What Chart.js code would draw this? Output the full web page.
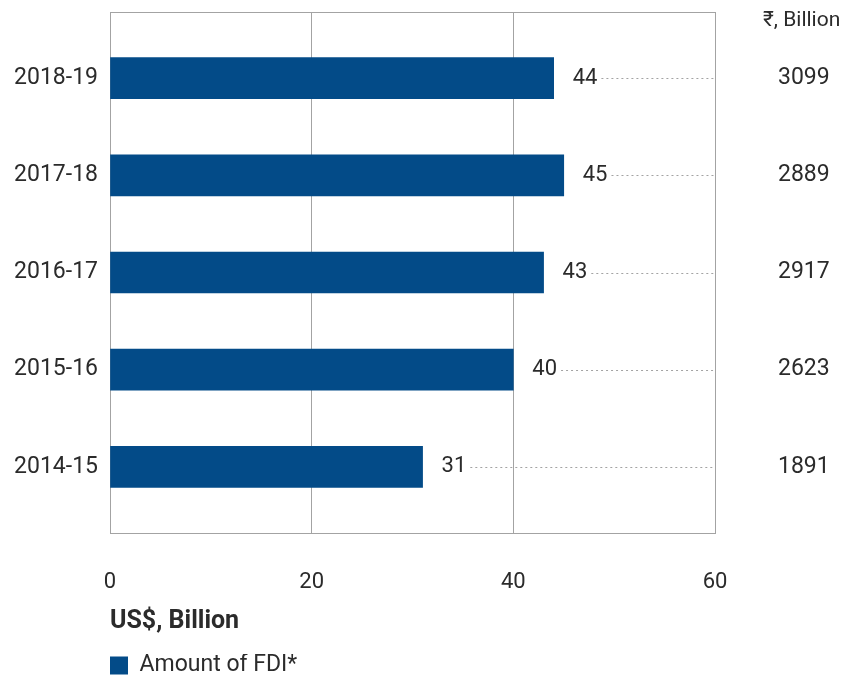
<!DOCTYPE html>
<html>
<head>
<meta charset="utf-8">
<script src="https://cdn.jsdelivr.net/npm/chart.js@4/dist/chart.umd.min.js"></script>
<style>
  html, body { margin: 0; padding: 0; background: #ffffff; }
  #wrap { width: 845px; height: 677px; }
</style>
</head>
<body>
<div id="wrap"><canvas id="c" width="845" height="677"></canvas></div>
<script>
const categories = ["2018-19", "2017-18", "2016-17", "2015-16", "2014-15"];
const fdiUsd = [44, 45, 43, 40, 31];
const fdiInr = [3099, 2889, 2917, 2623, 1891];
const xTicks = [0, 20, 40, 60];
const seriesName = "Amount of FDI*";
const xTitle = "US$, Billion";
const rightHeader = "₹, Billion";

const FONT = "Roboto, 'Open Sans', sans-serif";
const TEXT = "#2b2b2b";
const BAR = "#034b88";
const GRID = "#a3a3a3";

const catTicks = categories.map((c, i) => ({ value: i }));

function noPad(scale) {
  scale.paddingTop = 0;
  scale.paddingBottom = 0;
}

const framePlugin = {
  id: 'frame',
  beforeDatasetsDraw(chart) {
    const { ctx, chartArea: a } = chart;
    ctx.save();
    ctx.strokeStyle = GRID;
    ctx.lineWidth = 1;
    ctx.strokeRect(Math.round(a.left) + 0.5, Math.round(a.top) + 0.5,
                   Math.round(a.right - a.left), Math.round(a.bottom - a.top));
    ctx.restore();
  }
};

const labelPlugin = {
  id: 'barLabels',
  afterDatasetsDraw(chart) {
    const { ctx, chartArea: a } = chart;
    const meta = chart.getDatasetMeta(0);
    ctx.save();
    ctx.font = "22px " + FONT;
    ctx.fillStyle = TEXT;
    ctx.textAlign = 'left';
    ctx.textBaseline = 'middle';
    meta.data.forEach((bar, i) => {
      const txt = String(fdiUsd[i]);
      const x0 = bar.x + 19;
      ctx.fillText(txt, x0, bar.y);
      const w = ctx.measureText(txt).width;
      ctx.save();
      ctx.strokeStyle = GRID;
      ctx.lineWidth = 1;
      ctx.setLineDash([2, 3]);
      ctx.beginPath();
      ctx.moveTo(x0 + w + 4, Math.round(bar.y) + 0.5);
      ctx.lineTo(a.right, Math.round(bar.y) + 0.5);
      ctx.stroke();
      ctx.restore();
    });
    ctx.font = "21px " + FONT;
    ctx.fillText(rightHeader, a.right + 48, a.top + 9);
    ctx.restore();
  }
};

new Chart(document.getElementById('c'), {
  type: 'bar',
  data: {
    datasets: [{
      label: seriesName,
      data: categories.map((c, i) => ({ x: fdiUsd[i], y: i })),
      backgroundColor: BAR,
      borderWidth: 0,
      barThickness: 41
    }]
  },
  options: {
    indexAxis: 'y',
    responsive: false,
    animation: false,
    layout: { padding: { top: 12, bottom: -10, left: 0, right: 0 } },
    plugins: {
      tooltip: { enabled: false },
      legend: {
        position: 'bottom',
        align: 'start',
        fullSize: false,
        labels: {
          boxWidth: 18,
          boxHeight: 18,
          padding: 0,
          color: TEXT,
          font: { family: FONT, size: 23 }
        }
      }
    },
    scales: {
      x: {
        type: 'linear',
        min: 0,
        max: 60,
        afterBuildTicks(scale) { scale.ticks = xTicks.map(v => ({ value: v })); },
        afterFit(scale) { scale.height = 121; },
        grid: { color: GRID, drawTicks: false },
        border: { display: false },
        ticks: { padding: 36, color: TEXT, font: { family: FONT, size: 22 } },
        title: {
          display: true,
          text: xTitle,
          align: 'start',
          color: TEXT,
          font: { family: FONT, size: 25, weight: 'bold' },
          padding: { top: 0, bottom: 17 }
        }
      },
      y: {
        type: 'linear',
        position: 'left',
        reverse: true,
        offset: false,
        min: -0.68,
        max: 4.68,
        afterBuildTicks(scale) { scale.ticks = catTicks.map(t => ({ value: t.value })); },
        afterFit(scale) { scale.width = 110; noPad(scale); },
        grid: { display: false, drawTicks: false, offset: false },
        border: { display: false },
        ticks: {
          padding: 12,
          color: TEXT,
          font: { family: FONT, size: 23 },
          callback: (v) => categories[v]
        }
      },
      y2: {
        type: 'linear',
        position: 'right',
        reverse: true,
        offset: false,
        min: -0.68,
        max: 4.68,
        afterBuildTicks(scale) { scale.ticks = catTicks.map(t => ({ value: t.value })); },
        afterFit(scale) { scale.width = 130; noPad(scale); },
        grid: { display: false, drawTicks: false, offset: false },
        border: { display: false },
        ticks: {
          padding: 63,
          color: TEXT,
          font: { family: FONT, size: 23 },
          callback: (v) => String(fdiInr[v])
        }
      }
    }
  },
  plugins: [framePlugin, labelPlugin]
});
</script>
</body>
</html>
